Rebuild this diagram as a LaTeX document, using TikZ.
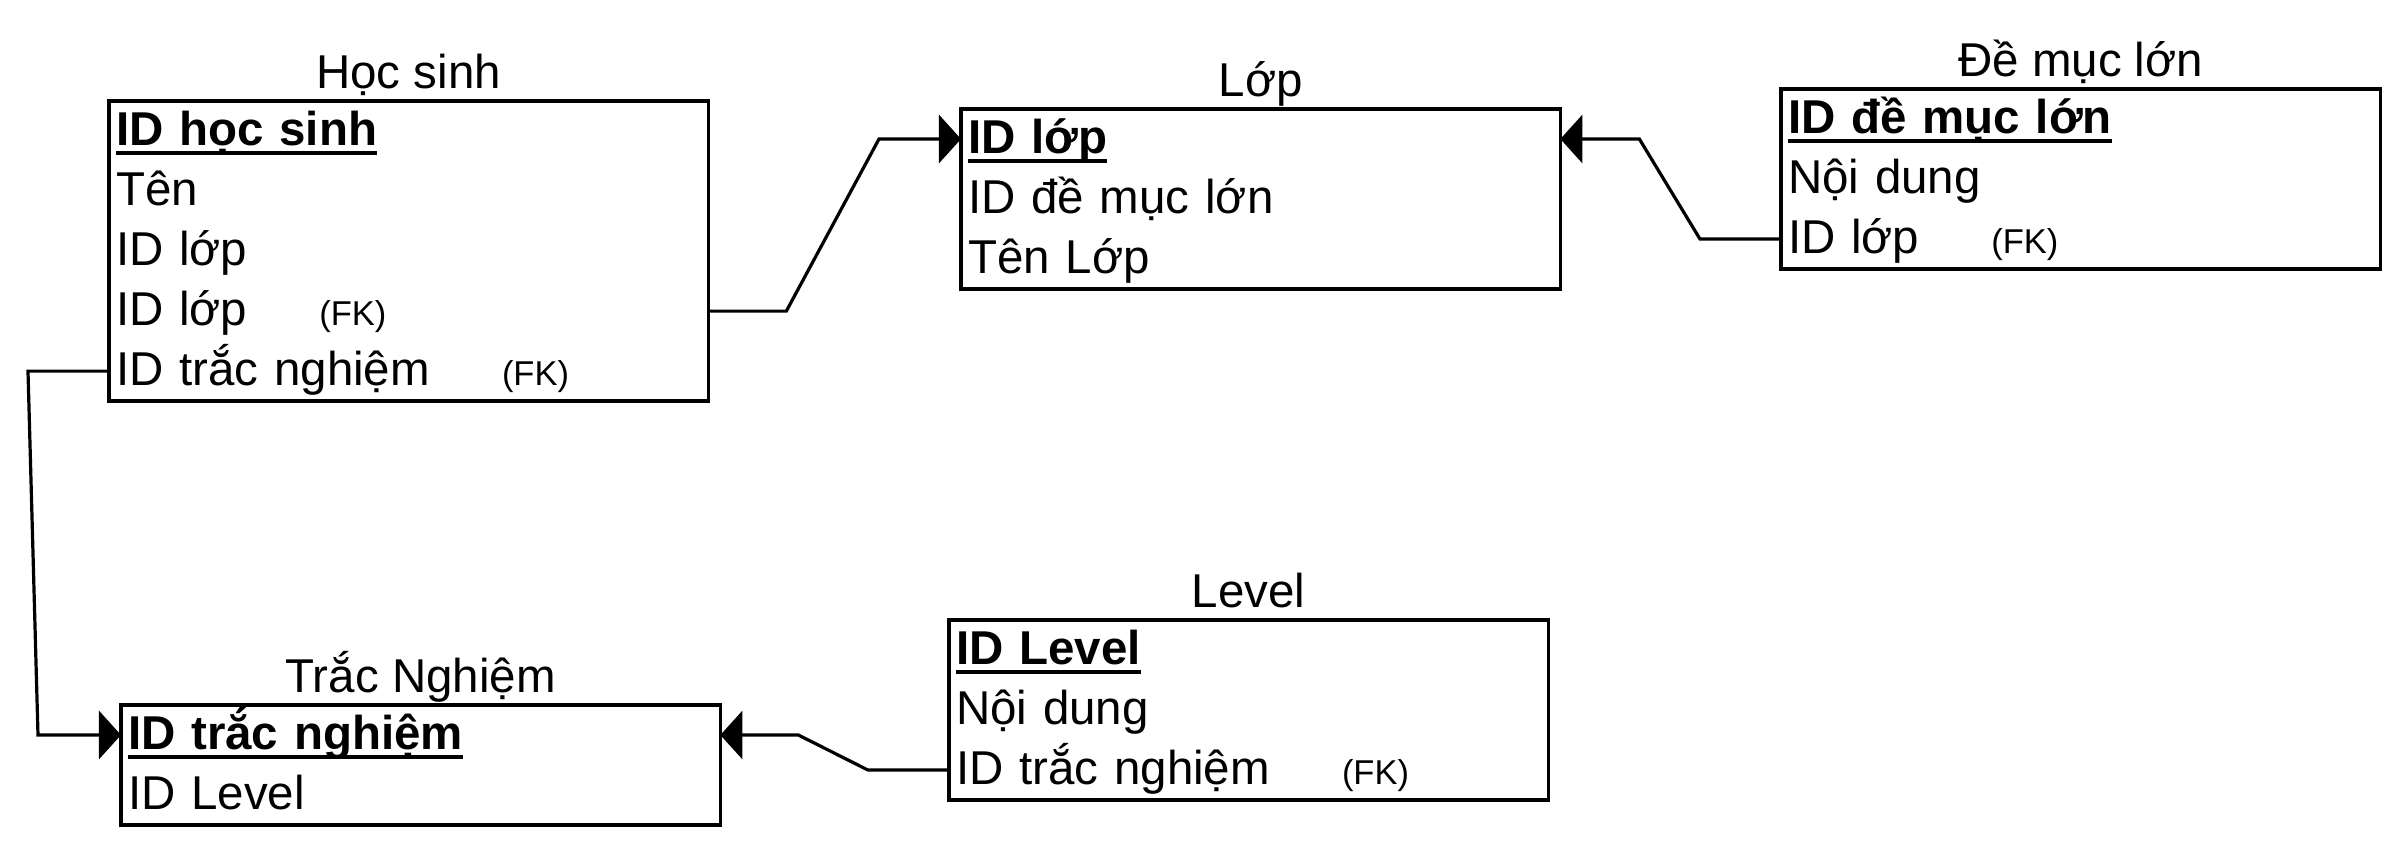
\documentclass[tikz,border=0pt]{standalone}
\usepackage{fontspec}
\setmainfont{Liberation Sans}
\usepackage{tikz}
\usetikzlibrary{positioning,arrows.meta,fit,calc}
\newcommand{\pk}[1]{\setbox0\hbox{\bfseries #1}\rlap{\rule[-0.095cm]{\wd0}{0.04cm}}\box0}
\newcommand{\fk}{\hspace{0.72cm}{\fontsize{9.8pt}{11pt}\selectfont (FK)}}
\tikzset{
  tbl/.style = {draw, line width=0.035cm, inner sep=0pt, outer sep=0pt},
  fld/.style = {anchor=north west, text width=5.85cm, inner xsep=0.07cm, inner ysep=0pt,
                outer sep=0pt, text height=0.44cm, text depth=0.16cm, align=left},
  ttl/.style = {anchor=base},
  rel/.style = {-{Triangle[length=0.22cm, width=0.48cm]}, line width=0.032cm},
}

\begin{document}
\begin{tikzpicture}[x=0.01cm, y=0.01cm, font=\fontsize{13.5pt}{16pt}\selectfont]
  \useasboundingbox (0,0) rectangle (2408,852);
  % Hoc sinh
  \node[fld] (hs1) at (109,751) {\pk{ID học sinh}};
  \node[fld, below=0pt of hs1] (hs2) {Tên};
  \node[fld, below=0pt of hs2] (hs3) {ID lớp};
  \node[fld, below=0pt of hs3] (hs4) {ID lớp\fk};
  \node[fld, below=0pt of hs4] (hs5) {ID trắc nghiệm\fk};
  \node[tbl, fit=(hs1)(hs5)] (hs) {};
  \node[ttl, above=0.12cm of hs, anchor=base] (hsT) {Học sinh};
  % Lop
  \node[fld] (lop1) at (961,743) {\pk{ID lớp}};
  \node[fld, below=0pt of lop1] (lop2) {ID đề mục lớn};
  \node[fld, below=0pt of lop2] (lop3) {Tên Lớp};
  \node[tbl, fit=(lop1)(lop3)] (lop) {};
  \node[ttl, above=0.12cm of lop, anchor=base] (lopT) {Lớp};
  % De muc lon
  \node[fld] (dm1) at (1781,763) {\pk{ID đề mục lớn}};
  \node[fld, below=0pt of dm1] (dm2) {Nội dung};
  \node[fld, below=0pt of dm2] (dm3) {ID lớp\fk};
  \node[tbl, fit=(dm1)(dm3)] (dm) {};
  \node[ttl, above=0.12cm of dm, anchor=base] (dmT) {Đề mục lớn};
  % Trac nghiem
  \node[fld] (tn1) at (121,147) {\pk{ID trắc nghiệm}};
  \node[fld, below=0pt of tn1] (tn2) {ID Level};
  \node[tbl, fit=(tn1)(tn2)] (tn) {};
  \node[ttl, above=0.12cm of tn, anchor=base] (tnT) {Trắc Nghiệm};
  % Level
  \node[fld] (lv1) at (949,232) {\pk{ID Level}};
  \node[fld, below=0pt of lv1] (lv2) {Nội dung};
  \node[fld, below=0pt of lv2] (lv3) {ID trắc nghiệm\fk};
  \node[tbl, fit=(lv1)(lv3)] (lv) {};
  \node[ttl, above=0.12cm of lv, anchor=base] (lvT) {Level};
  % relations
  \draw[rel] (hs4.east) -- ++(78,0) -- ($(lop1.west)+(-82,0)$) -- (lop1.west);
  \draw[rel] (dm3.west) -- ++(-81,0) -- ($(lop1.east)+(79,0)$) -- (lop1.east);
  \draw[rel] (hs5.west) -- ++(-81,0) -- ($(tn1.west)+(-83,0)$) -- (tn1.west);
  \draw[rel] (lv3.west) -- ++(-81,0) -- ($(tn1.east)+(78,0)$) -- (tn1.east);
\end{tikzpicture}
\end{document}
